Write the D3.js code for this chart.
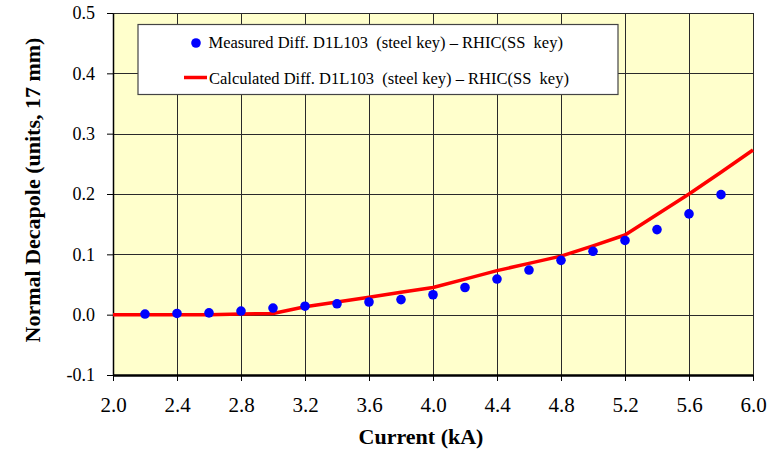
<!DOCTYPE html>
<html>
<head>
<meta charset="utf-8">
<script src="https://cdn.jsdelivr.net/npm/d3@7"></script>
<style>
  html, body { margin: 0; padding: 0; background: #fff; }
  svg { display: block; }
</style>
</head>
<body>
<svg id="chart" width="777" height="452"></svg>
<script>
// ---- data ----
const measuredCurrent = [2.2, 2.4, 2.6, 2.8, 3.0, 3.2, 3.4, 3.6, 3.8, 4.0, 4.2, 4.4, 4.6, 4.8, 5.0, 5.2, 5.4, 5.6, 5.8];
const measuredValues  = [0.001, 0.002, 0.003, 0.006, 0.011, 0.014, 0.018, 0.021, 0.025, 0.033, 0.045, 0.059, 0.074, 0.090, 0.105, 0.123, 0.141, 0.167, 0.199];
const calcCurrent = [2.0, 2.2, 2.4, 2.6, 2.8, 3.0, 3.2, 3.4, 3.6, 3.8, 4.0, 4.2, 4.4, 4.6, 4.8, 5.0, 5.2, 5.4, 5.6, 5.8, 6.0];
const calcValues  = [0.0, 0.0, 0.0, 0.0, 0.001, 0.002, 0.013, 0.021, 0.029, 0.037, 0.045, 0.059, 0.073, 0.085, 0.097, 0.114, 0.132, 0.166, 0.200, 0.236, 0.273];
const xTicks = [2.0, 2.4, 2.8, 3.2, 3.6, 4.0, 4.4, 4.8, 5.2, 5.6, 6.0];
const yTicks = [-0.1, 0.0, 0.1, 0.2, 0.3, 0.4, 0.5];
const seriesNames = [
  "Measured Diff. D1L103\u00a0\u00a0(steel key) \u2013 RHIC(SS\u00a0\u00a0key)",
  "Calculated Diff. D1L103\u00a0\u00a0(steel key) \u2013 RHIC(SS\u00a0\u00a0key)"
];
const xTitle = "Current (kA)";
const yTitle = "Normal Decapole (units, 17 mm)";

// ---- layout ----
const FONT = '"Liberation Serif"';
const L = 113, R = 753, T = 13, B = 375;
const svg = d3.select("#chart");
const x = d3.scaleLinear().domain([2.0, 6.0]).range([L, R]);
const y = d3.scaleLinear().domain([-0.1, 0.5]).range([B, T]);

// plot background
svg.append("rect").attr("x", L).attr("y", T).attr("width", R - L).attr("height", B - T)
  .attr("fill", "#FFFFCC");

// grid
const grid = svg.append("g").attr("stroke", "#2a2a2a").attr("stroke-width", 1).attr("shape-rendering", "crispEdges");
grid.selectAll("line.v").data(xTicks).join("line").attr("class", "v")
  .attr("x1", d => Math.round(x(d)) + 0.5).attr("x2", d => Math.round(x(d)) + 0.5)
  .attr("y1", T).attr("y2", B);
grid.selectAll("line.h").data(yTicks).join("line").attr("class", "h")
  .attr("y1", d => Math.round(y(d)) + 0.5).attr("y2", d => Math.round(y(d)) + 0.5)
  .attr("x1", L).attr("x2", R);

// axes
const fmt = d => d.toFixed(1);
const yAxis = svg.append("g").attr("transform", `translate(${L},0)`)
  .call(d3.axisLeft(y).tickValues(yTicks).tickFormat(fmt).tickSize(6).tickSizeOuter(0).tickPadding(12));
const xAxis = svg.append("g").attr("transform", `translate(0,${B})`)
  .call(d3.axisBottom(x).tickValues(xTicks).tickFormat(fmt).tickSize(6).tickSizeOuter(0).tickPadding(16));
[yAxis, xAxis].forEach(g => {
  g.attr("font-family", null).attr("font-size", null);
  g.selectAll("path.domain").attr("stroke", "#000").attr("stroke-width", 1.5);
  g.selectAll(".tick line").attr("stroke", "#000");
  g.selectAll("text").style("font-family", FONT).attr("fill", "#000");
});
yAxis.selectAll("text").style("font-size", "18px");
xAxis.selectAll("text").style("font-size", "21px");
xAxis.select("path.domain").attr("stroke-width", 2.5);

// calculated line
const line = d3.line().x((d, i) => x(calcCurrent[i])).y(d => y(d));
svg.append("path").datum(calcValues).attr("d", line)
  .attr("fill", "none").attr("stroke", "#FF0000").attr("stroke-width", 3.5).attr("stroke-linejoin", "round");

// measured points
svg.append("g").selectAll("circle").data(measuredValues).join("circle")
  .attr("cx", (d, i) => x(measuredCurrent[i])).attr("cy", d => y(d)).attr("r", 4.8)
  .attr("fill", "#0000FF");

// legend
const lg = svg.append("g");
lg.append("rect").attr("x", 138).attr("y", 24.5).attr("width", 480).attr("height", 70)
  .attr("fill", "#fff").attr("stroke", "#444").attr("stroke-width", 1.2);
lg.append("circle").attr("cx", 196).attr("cy", 43).attr("r", 4.8).attr("fill", "#0000FF");
lg.append("line").attr("x1", 184).attr("x2", 207).attr("y1", 77.5).attr("y2", 77.5)
  .attr("stroke", "#FF0000").attr("stroke-width", 3.5);
lg.selectAll("text").data(seriesNames).join("text")
  .attr("x", (d, i) => i === 0 ? 208.5 : 209).attr("y", (d, i) => i === 0 ? 48.3 : 84)
  .style("font-family", FONT).style("font-size", "16.5px").attr("fill", "#000").text(d => d);

// axis titles
svg.append("text").attr("x", 421).attr("y", 444).attr("text-anchor", "middle")
  .style("font-family", FONT).style("font-size", "22px").style("font-weight", "bold").text(xTitle);
svg.append("text").attr("transform", "translate(40,190) rotate(-90)").attr("text-anchor", "middle")
  .style("font-family", FONT).style("font-size", "22px").style("font-weight", "bold").text(yTitle);
</script>
</body>
</html>
